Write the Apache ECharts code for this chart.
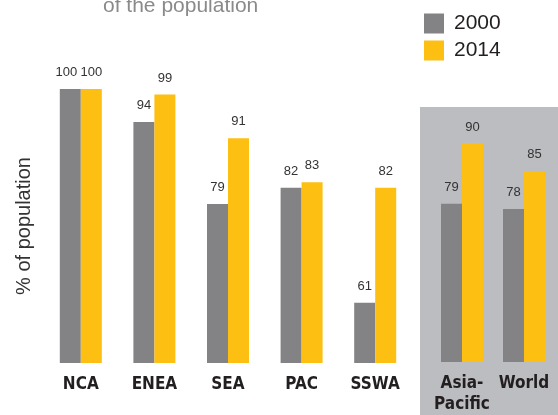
<!DOCTYPE html>
<html>
<head>
<meta charset="utf-8">
<script src="https://cdn.jsdelivr.net/npm/echarts@6/dist/echarts.min.js"></script>
<style>html,body{margin:0;padding:0;background:#fff}#c{width:558px;height:415px}</style>
</head>
<body>
<div id="c"></div>
<script>
var regionCats = ['NCA', 'ENEA', 'SEA', 'PAC', 'SSWA'];
var aggCats = ['Asia-\nPacific', 'World'];
var values2000 = [100, 94, 79, 82, 61, 79, 78];
var values2014 = [100, 99, 91, 83, 82, 90, 85];
var seriesNames = ['2000', '2014'];
var yMin = 50, yMax = 100;

var GRAY = '#838386', YELLOW = '#FDBF12';
var chart = echarts.init(document.getElementById('c'));
var nReg = regionCats.length;

function labelCfg() {
  return { show: true, position: 'top', distance: 10, fontSize: 13, color: '#333',
           fontFamily: 'Liberation Sans' };
}
function barSeries(name, color, data, idx, shiftFirst) {
  var items = data.map(function (v, i) {
    return (shiftFirst && i === 0) ? { value: v, label: { offset: [-4, 0] } } : v;
  });
  return { name: name, type: 'bar', xAxisIndex: idx, yAxisIndex: idx, data: items,
           barWidth: 21, barGap: '0%', itemStyle: { color: color }, label: labelCfg() };
}
var xLabel = { fontFamily: 'DejaVu Sans Condensed', fontWeight: 'bold', fontSize: 17,
               color: '#231f20', margin: 11, lineHeight: 21, interval: 0 };

chart.setOption({
  animation: false,
  title: { text: 'of the population', left: 98, top: -9,
           textStyle: { fontFamily: 'Liberation Sans', fontWeight: 'normal', fontSize: 21, color: '#8a8a8c' } },
  graphic: [{ type: 'rect', left: 420, top: 107, shape: { width: 138, height: 308 },
              style: { fill: '#BCBDC0' }, z: -10 }],
  legend: { data: seriesNames, orient: 'vertical', left: 419, top: 8, itemWidth: 20, itemHeight: 20,
            itemGap: 6, icon: 'rect',
            textStyle: { fontSize: 21, color: '#231f20', fontFamily: 'Liberation Sans', padding: [0, 0, 0, 5] } },
  grid: [
    { left: 44, width: 368, top: 89, bottom: 52 },
    { left: 431, width: 124, top: 89, bottom: 52 }
  ],
  xAxis: [
    { type: 'category', gridIndex: 0, data: regionCats, axisLine: { show: false }, axisTick: { show: false }, axisLabel: xLabel },
    { type: 'category', gridIndex: 1, data: aggCats, axisLine: { show: false }, axisTick: { show: false }, axisLabel: xLabel }
  ],
  yAxis: [
    { type: 'value', gridIndex: 0, min: yMin, max: yMax, splitLine: { show: false }, axisLabel: { show: false },
      axisLine: { show: false }, axisTick: { show: false },
      name: '% of population', nameLocation: 'middle', nameGap: 10,
      nameTextStyle: { fontSize: 20, color: '#333', fontFamily: 'Liberation Sans' } },
    { type: 'value', gridIndex: 1, min: yMin, max: yMax, show: false }
  ],
  series: [
    barSeries(seriesNames[0], GRAY, values2000.slice(0, nReg), 0, true),
    barSeries(seriesNames[1], YELLOW, values2014.slice(0, nReg), 0),
    barSeries(seriesNames[0], GRAY, values2000.slice(nReg), 1),
    barSeries(seriesNames[1], YELLOW, values2014.slice(nReg), 1)
  ]
});
</script>
</body>
</html>
